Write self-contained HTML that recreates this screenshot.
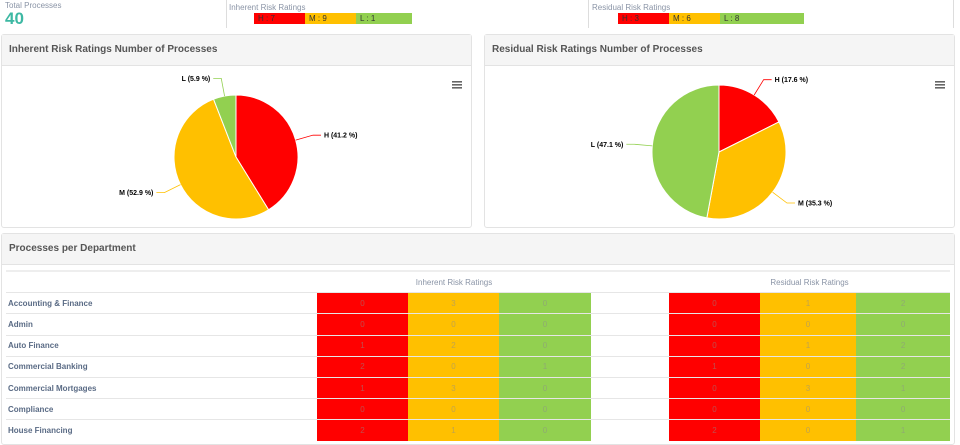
<!DOCTYPE html>
<html><head><meta charset="utf-8">
<style>
body{margin:0;width:960px;height:432px;overflow:hidden;background:#fff;font-family:"Liberation Sans",sans-serif;position:relative}
.abs{position:absolute}
.lbl{font-size:8px;color:#8a94a6}
.bar{position:absolute;top:13px;height:11px;font-size:8px;line-height:11px;padding-left:4px;box-sizing:border-box;color:#333}
.panel{position:absolute;border:1px solid #e3e3e3;border-radius:3px;background:#fff}
.ph{background:#f5f5f5;height:30px;border-bottom:1px solid #e3e3e3;font-size:10px;font-weight:bold;color:#555;line-height:30px;padding-left:7px}
table{position:absolute;border-collapse:collapse;font-size:8px;table-layout:fixed}
td{height:20.2px;border-top:1px solid #e6e6e6;padding:0;text-align:center;color:rgba(140,140,140,0.55)}
td.n{text-align:left;padding-left:2px;color:#5a6b85;font-weight:bold;font-size:8px}
.r{background:#f00}.o{background:#ffc000}.g{background:#92d050}
</style></head><body>
<div class="abs lbl" style="left:5px;top:1px">Total Processes</div>
<div class="abs" style="left:5px;top:9px;font-size:17px;font-weight:bold;color:#3db8a3">40</div>
<div class="abs" style="left:226px;top:0;width:1px;height:28px;background:#ddd"></div>
<div class="abs lbl" style="left:229px;top:3px">Inherent Risk Ratings</div>
<div class="bar r" style="left:254px;width:51px">H : 7</div>
<div class="bar o" style="left:305px;width:51px">M : 9</div>
<div class="bar g" style="left:356px;width:56px">L : 1</div>
<div class="abs" style="left:588px;top:0;width:1px;height:28px;background:#ddd"></div>
<div class="abs lbl" style="left:592px;top:3px">Residual Risk Ratings</div>
<div class="bar r" style="left:618px;width:51px">H : 3</div>
<div class="bar o" style="left:669px;width:51px">M : 6</div>
<div class="bar g" style="left:720px;width:84px">L : 8</div>
<div class="abs" style="left:953px;top:0;width:1px;height:28px;background:#ddd"></div>

<div class="panel" style="left:1px;top:34px;width:469px;height:192px"><div class="ph">Inherent Risk Ratings Number of Processes</div></div>
<div class="panel" style="left:484px;top:34px;width:469px;height:192px"><div class="ph">Residual Risk Ratings Number of Processes</div></div>
<svg class="abs" style="left:0;top:0" width="960" height="232" id="pies"></svg>

<div class="panel" style="left:1px;top:233px;width:952px;height:210px"><div class="ph">Processes per Department</div></div>
<table style="left:6px;top:270px;width:944px" id="tbl">
<colgroup><col style="width:311px"><col style="width:91px"><col style="width:91px"><col style="width:92px"><col style="width:78px"><col style="width:91px"><col style="width:96px"><col style="width:94px"></colgroup>
<tr><td style="border-top:2px solid #eee;height:19px"></td><td colspan="3" style="color:#8a94a6;border-top:2px solid #eee">Inherent Risk Ratings</td><td style="border-top:2px solid #eee"></td><td colspan="3" style="color:#8a94a6;border-top:2px solid #eee">Residual Risk Ratings</td></tr>
</table>
<script>
const depts=["Accounting & Finance","Admin","Auto Finance","Commercial Banking","Commercial Mortgages","Compliance","House Financing"];
const inherentVals=[[0,3,0],[0,0,0],[1,2,0],[2,0,1],[1,3,0],[0,0,0],[2,1,0]];
const residualVals=[[0,1,2],[0,0,0],[0,1,2],[1,0,2],[0,3,1],[0,0,0],[2,0,1]];
const pieLabels=["H","M","L"];
const inherentPct=[41.2,52.9,5.9];
const residualPct=[17.6,35.3,47.1];
const cls=["r","o","g"];
const tbl=document.getElementById('tbl');
depts.forEach((d,i)=>{
  const tr=document.createElement('tr');
  
  
  let h='<td class="n">'+d.replace('&','&amp;')+'</td>';
  inherentVals[i].forEach((v,j)=>h+='<td class="'+cls[j]+'">'+v+'</td>');
  h+='<td></td>';
  residualVals[i].forEach((v,j)=>h+='<td class="'+cls[j]+'">'+v+'</td>');
  tr.innerHTML=h;tbl.appendChild(tr);
});
const svg=document.getElementById('pies');
const NS='http://www.w3.org/2000/svg';
const cols=["#ff0000","#ffc000","#92d050"];
function pie(cx,cy,r,pcts,name){
  let a=0;const tot=pcts.reduce((s,v)=>s+v,0);
  pcts.forEach((p,i)=>{
    const a0=a,a1=a+p/tot*2*Math.PI;a=a1;
    const x0=cx+r*Math.sin(a0),y0=cy-r*Math.cos(a0),x1=cx+r*Math.sin(a1),y1=cy-r*Math.cos(a1);
    const path=document.createElementNS(NS,'path');
    path.setAttribute('d',`M${cx},${cy}L${x0},${y0}A${r},${r} 0 ${a1-a0>Math.PI?1:0} 1 ${x1},${y1}Z`);
    path.setAttribute('fill',cols[i]);path.setAttribute('stroke','#fff');path.setAttribute('stroke-width','1');
    
    
    svg.appendChild(path);
    const m=(a0+a1)/2,s=Math.sin(m),c=-Math.cos(m);
    const ex=cx+r*s,ey=cy+r*c,mx=cx+(r+18)*s,my=cy+(r+18)*c;
    const right=s>=0;const tx=mx+(right?8:-8);
    const ln=document.createElementNS(NS,'path');
    ln.setAttribute('d',`M${ex},${ey}L${mx},${my}L${tx},${my}`);
    ln.setAttribute('stroke',cols[i]);ln.setAttribute('fill','none');ln.setAttribute('stroke-width','0.8');
    svg.appendChild(ln);
    const t=document.createElementNS(NS,'text');
    t.setAttribute('x',tx+(right?3:-3));t.setAttribute('y',my+2.5);
    t.setAttribute('text-anchor',right?'start':'end');
    t.setAttribute('font-size','7');t.setAttribute('font-weight','bold');t.setAttribute('fill','#000');
    
    
    t.textContent=pieLabels[i]+' ('+p+' %)';
    svg.appendChild(t);
  });
}
pie(236,157,62,inherentPct,'inherent-pie');
pie(719,152,67,residualPct,'residual-pie');
[[457,85],[940,85]].forEach(([x,y],k)=>{
  const g=document.createElementNS(NS,'g');
  
  
  for(let i=0;i<3;i++){const r=document.createElementNS(NS,'rect');r.setAttribute('x',x-5);r.setAttribute('y',y-4+i*3);r.setAttribute('width',10);r.setAttribute('height',1.6);r.setAttribute('fill','#666');g.appendChild(r);}
  svg.appendChild(g);
});
</script>
</body></html>
